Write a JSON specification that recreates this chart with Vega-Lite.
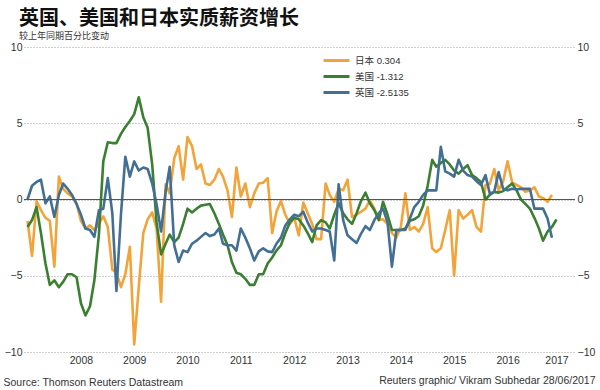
{
  "$schema": "https://vega.github.io/schema/vega-lite/v6.json",
  "width": 551,
  "height": 305,
  "autosize": "none",
  "padding": {"left": 24, "top": 47, "right": 25, "bottom": 38},
  "background": "white",
  "config": {"view": {"stroke": null}, "font": "Liberation Sans, Noto Sans CJK SC"},
  "title": {
    "text": "英国、美国和日本实质薪资增长",
    "subtitle": "较上年同期百分比变动",
    "anchor": "start",
    "frame": "group",
    "dx": -5,
    "offset": 1,
    "font": "Noto Sans CJK SC",
    "fontSize": 20,
    "fontWeight": "bold",
    "color": "#111111",
    "subtitleFont": "Noto Sans CJK SC",
    "subtitleFontSize": 9,
    "subtitleColor": "#333333",
    "subtitlePadding": 3
  },
  "data": {"values": [
    {"d":"2007-07-01","jp":-1.4,"us":-1.8,"uk":0.0},
    {"d":"2007-08-01","jp":-3.7,"us":-1.35,"uk":0.9},
    {"d":"2007-09-01","jp":-0.1,"us":-0.5,"uk":1.15},
    {"d":"2007-10-01","jp":-0.7,"us":-2.2,"uk":1.3},
    {"d":"2007-11-01","jp":-1.2,"us":-4.2,"uk":-0.25},
    {"d":"2007-12-01","jp":-1.4,"us":-5.6,"uk":0.2},
    {"d":"2008-01-01","jp":-4.4,"us":-5.3,"uk":-1.15},
    {"d":"2008-02-01","jp":1.5,"us":-5.75,"uk":0.3},
    {"d":"2008-03-01","jp":0.7,"us":-5.4,"uk":1.05},
    {"d":"2008-04-01","jp":0.4,"us":-4.9,"uk":0.7},
    {"d":"2008-05-01","jp":0.2,"us":-4.9,"uk":0.3},
    {"d":"2008-06-01","jp":-0.25,"us":-5.1,"uk":-0.3},
    {"d":"2008-07-01","jp":-1.4,"us":-6.8,"uk":-1.0},
    {"d":"2008-08-01","jp":-1.9,"us":-7.6,"uk":-1.9},
    {"d":"2008-09-01","jp":-1.7,"us":-7.0,"uk":-2.0},
    {"d":"2008-10-01","jp":-2.0,"us":-5.3,"uk":-2.45},
    {"d":"2008-11-01","jp":-1.6,"us":-2.3,"uk":-0.7},
    {"d":"2008-12-01","jp":-1.1,"us":2.5,"uk":-0.6},
    {"d":"2009-01-01","jp":-1.8,"us":3.75,"uk":1.4},
    {"d":"2009-02-01","jp":-4.6,"us":3.7,"uk":-0.9},
    {"d":"2009-03-01","jp":-4.8,"us":3.7,"uk":-6.0},
    {"d":"2009-04-01","jp":-5.75,"us":4.3,"uk":-1.0},
    {"d":"2009-05-01","jp":-4.9,"us":4.75,"uk":2.8},
    {"d":"2009-06-01","jp":-3.1,"us":5.15,"uk":1.5},
    {"d":"2009-07-01","jp":-9.5,"us":5.6,"uk":2.5},
    {"d":"2009-08-01","jp":-5.75,"us":6.7,"uk":1.9},
    {"d":"2009-09-01","jp":-2.2,"us":5.4,"uk":2.1},
    {"d":"2009-10-01","jp":-1.3,"us":4.7,"uk":2.0},
    {"d":"2009-11-01","jp":-0.85,"us":2.3,"uk":1.05},
    {"d":"2009-12-01","jp":-1.9,"us":-1.5,"uk":-0.3},
    {"d":"2010-01-01","jp":-6.7,"us":-3.6,"uk":-2.1},
    {"d":"2010-02-01","jp":1.0,"us":-2.9,"uk":0.5},
    {"d":"2010-03-01","jp":0.4,"us":-2.3,"uk":2.15},
    {"d":"2010-04-01","jp":2.7,"us":-2.8,"uk":-3.0},
    {"d":"2010-05-01","jp":3.5,"us":-2.5,"uk":-4.1},
    {"d":"2010-06-01","jp":1.3,"us":-1.6,"uk":-3.35},
    {"d":"2010-07-01","jp":4.1,"us":-0.6,"uk":-3.45},
    {"d":"2010-08-01","jp":3.5,"us":-0.85,"uk":-2.9},
    {"d":"2010-09-01","jp":2.0,"us":-0.6,"uk":-2.7},
    {"d":"2010-10-01","jp":2.3,"us":-0.4,"uk":-2.45},
    {"d":"2010-11-01","jp":1.05,"us":-0.35,"uk":-2.2},
    {"d":"2010-12-01","jp":0.95,"us":-0.3,"uk":-2.4},
    {"d":"2011-01-01","jp":1.3,"us":-0.9,"uk":-2.3},
    {"d":"2011-02-01","jp":2.0,"us":-1.6,"uk":-1.9},
    {"d":"2011-03-01","jp":1.5,"us":-2.3,"uk":-2.9},
    {"d":"2011-04-01","jp":0.6,"us":-3.0,"uk":-3.0},
    {"d":"2011-05-01","jp":-1.15,"us":-4.1,"uk":-3.0},
    {"d":"2011-06-01","jp":2.1,"us":-4.8,"uk":-3.35},
    {"d":"2011-07-01","jp":0.2,"us":-4.9,"uk":-1.9},
    {"d":"2011-08-01","jp":1.05,"us":-5.2,"uk":-2.5},
    {"d":"2011-09-01","jp":-0.5,"us":-5.6,"uk":-3.2},
    {"d":"2011-10-01","jp":0.4,"us":-5.6,"uk":-4.0},
    {"d":"2011-11-01","jp":1.05,"us":-4.9,"uk":-3.4},
    {"d":"2011-12-01","jp":1.1,"us":-4.9,"uk":-3.2},
    {"d":"2012-01-01","jp":1.4,"us":-4.2,"uk":-3.4},
    {"d":"2012-02-01","jp":-2.2,"us":-3.8,"uk":-3.45},
    {"d":"2012-03-01","jp":-0.8,"us":-3.35,"uk":-2.9},
    {"d":"2012-04-01","jp":-0.1,"us":-3.0,"uk":-2.5},
    {"d":"2012-05-01","jp":-1.0,"us":-2.2,"uk":-1.7},
    {"d":"2012-06-01","jp":-1.6,"us":-1.5,"uk":-1.3},
    {"d":"2012-07-01","jp":-1.2,"us":-1.2,"uk":-1.0},
    {"d":"2012-08-01","jp":-2.35,"us":-1.3,"uk":-1.1},
    {"d":"2012-09-01","jp":-0.2,"us":-1.7,"uk":-0.8},
    {"d":"2012-10-01","jp":-0.9,"us":-2.2,"uk":-1.5},
    {"d":"2012-11-01","jp":-1.6,"us":-2.8,"uk":-2.1},
    {"d":"2012-12-01","jp":-2.6,"us":-1.7,"uk":-1.9},
    {"d":"2013-01-01","jp":-2.6,"us":-1.35,"uk":-1.9},
    {"d":"2013-02-01","jp":1.05,"us":-1.5,"uk":-2.0},
    {"d":"2013-03-01","jp":0.3,"us":-1.9,"uk":-2.1},
    {"d":"2013-04-01","jp":-0.15,"us":-1.0,"uk":-4.0},
    {"d":"2013-05-01","jp":0.7,"us":-0.25,"uk":1.0},
    {"d":"2013-06-01","jp":0.6,"us":-0.9,"uk":-1.35},
    {"d":"2013-07-01","jp":1.3,"us":-1.3,"uk":-2.35},
    {"d":"2013-08-01","jp":-1.15,"us":-1.6,"uk":-2.6},
    {"d":"2013-09-01","jp":-1.0,"us":-0.9,"uk":-2.85},
    {"d":"2013-10-01","jp":-0.8,"us":-0.1,"uk":-2.25},
    {"d":"2013-11-01","jp":-0.6,"us":0.45,"uk":-1.75},
    {"d":"2013-12-01","jp":-0.05,"us":-0.25,"uk":-2.0},
    {"d":"2014-01-01","jp":-0.6,"us":-0.7,"uk":-1.35},
    {"d":"2014-02-01","jp":-1.35,"us":-1.35,"uk":-0.9},
    {"d":"2014-03-01","jp":-1.3,"us":-0.15,"uk":-0.6},
    {"d":"2014-04-01","jp":-1.6,"us":-1.0,"uk":-1.5},
    {"d":"2014-05-01","jp":-2.2,"us":-2.0,"uk":-4.4},
    {"d":"2014-06-01","jp":-2.5,"us":-2.0,"uk":-2.0},
    {"d":"2014-07-01","jp":-1.8,"us":-2.0,"uk":-2.0},
    {"d":"2014-08-01","jp":0.4,"us":-1.9,"uk":-2.0},
    {"d":"2014-09-01","jp":-2.0,"us":-1.4,"uk":-1.25},
    {"d":"2014-10-01","jp":-1.8,"us":-1.3,"uk":-0.5},
    {"d":"2014-11-01","jp":-2.1,"us":-1.1,"uk":-0.15},
    {"d":"2014-12-01","jp":-1.6,"us":-0.4,"uk":0.3},
    {"d":"2015-01-01","jp":-0.5,"us":0.9,"uk":0.6},
    {"d":"2015-02-01","jp":-3.2,"us":2.6,"uk":0.6},
    {"d":"2015-03-01","jp":-3.45,"us":2.15,"uk":0.6},
    {"d":"2015-04-01","jp":-3.2,"us":2.4,"uk":3.45},
    {"d":"2015-05-01","jp":-2.0,"us":2.6,"uk":1.85},
    {"d":"2015-06-01","jp":-0.7,"us":2.3,"uk":1.7},
    {"d":"2015-07-01","jp":-5.0,"us":1.9,"uk":1.5},
    {"d":"2015-08-01","jp":-0.7,"us":1.7,"uk":2.6},
    {"d":"2015-09-01","jp":-1.25,"us":2.0,"uk":1.9},
    {"d":"2015-10-01","jp":-1.0,"us":2.25,"uk":1.6},
    {"d":"2015-11-01","jp":-0.7,"us":1.6,"uk":1.5},
    {"d":"2015-12-01","jp":-1.8,"us":1.4,"uk":1.2},
    {"d":"2016-01-01","jp":-2.1,"us":1.15,"uk":0.95},
    {"d":"2016-02-01","jp":0.95,"us":0.0,"uk":1.6},
    {"d":"2016-03-01","jp":1.0,"us":0.3,"uk":0.4},
    {"d":"2016-04-01","jp":2.0,"us":0.5,"uk":0.5},
    {"d":"2016-05-01","jp":0.6,"us":0.45,"uk":1.8},
    {"d":"2016-06-01","jp":1.2,"us":0.55,"uk":0.7},
    {"d":"2016-07-01","jp":2.5,"us":0.8,"uk":0.6},
    {"d":"2016-08-01","jp":1.15,"us":1.05,"uk":0.7},
    {"d":"2016-09-01","jp":0.95,"us":0.6,"uk":0.65},
    {"d":"2016-10-01","jp":0.8,"us":0.0,"uk":0.7},
    {"d":"2016-11-01","jp":0.5,"us":-0.3,"uk":0.7},
    {"d":"2016-12-01","jp":0.6,"us":-0.6,"uk":0.7},
    {"d":"2017-01-01","jp":0.8,"us":-1.2,"uk":-0.6},
    {"d":"2017-02-01","jp":0.2,"us":-1.9,"uk":-0.6},
    {"d":"2017-03-01","jp":0.1,"us":-2.7,"uk":-0.6},
    {"d":"2017-04-01","jp":-0.15,"us":-2.1,"uk":-1.25},
    {"d":"2017-05-01","jp":0.304,"us":-1.8,"uk":-2.5135},
    {"d":"2017-06-01","jp":null,"us":-1.312,"uk":null}
  ]},
  "resolve": {"axis": {"y": "independent"}},
  "layer": [
    {
      "transform": [
        {"fold": ["jp", "us", "uk"], "as": ["k", "v"]},
        {"filter": "datum.v != null"}
      ],
      "mark": {"type": "line", "strokeWidth": 2.6, "strokeJoin": "round"},
      "encoding": {
        "x": {
          "field": "d", "type": "temporal",
          "scale": {"type": "utc", "domain": [{"year": 2007, "month": 6, "date": 7, "utc": true}, {"year": 2017, "month": 10, "date": 6, "utc": true}]},
          "axis": {
            "values": [
              {"year": 2008, "month": 7, "date": 1, "utc": true},
              {"year": 2009, "month": 7, "date": 1, "utc": true},
              {"year": 2010, "month": 7, "date": 1, "utc": true},
              {"year": 2011, "month": 7, "date": 1, "utc": true},
              {"year": 2012, "month": 7, "date": 1, "utc": true},
              {"year": 2013, "month": 7, "date": 1, "utc": true},
              {"year": 2014, "month": 7, "date": 1, "utc": true},
              {"year": 2015, "month": 7, "date": 1, "utc": true},
              {"year": 2016, "month": 7, "date": 1, "utc": true},
              {"year": 2017, "month": 6, "date": 1, "utc": true}
            ],
            "labelExpr": "utcFormat(datum.value, '%Y')",
            "ticks": false, "domain": false, "grid": false,
            "labelPadding": 3, "labelFontSize": 10.5, "labelColor": "#333333",
            "labelFont": "Liberation Sans", "labelFlush": false, "labelOverlap": false,
            "title": "Source: Thomson Reuters Datastream",
            "titleX": -21, "titleY": 33, "titleAlign": "left", "titleBaseline": "alphabetic",
            "titleFont": "Liberation Sans", "titleFontSize": 10.5, "titleFontWeight": "normal", "titleColor": "#333333"
          }
        },
        "y": {
          "field": "v", "type": "quantitative",
          "scale": {"domain": [-10, 10], "nice": false, "zero": false},
          "axis": {
            "orient": "left", "values": [-10, -5, 0, 5, 10],
            "grid": true, "gridDash": [1, 2], "gridColor": "#9a9a9a", "gridWidth": 1,
            "ticks": false, "domain": false, "labelPadding": 2,
            "labelFontSize": 10.5, "labelColor": "#333333", "labelFont": "Liberation Sans",
            "title": null
          }
        },
        "color": {
          "field": "k", "type": "nominal",
          "scale": {"domain": ["jp", "us", "uk"], "range": ["#F2A43A", "#3B7F32", "#426F93"]},
          "legend": {
            "orient": "none", "legendX": 304.5, "legendY": 5.5, "title": null, "padding": 0,
            "symbolType": "M-2,0H2", "symbolSize": 169, "symbolStrokeWidth": 3,
            "labelFontSize": 9.5, "labelOffset": 10.5, "rowPadding": 2, "labelColor": "#333333",
            "labelFont": "Liberation Sans, Noto Sans CJK SC",
            "labelExpr": "datum.value == 'jp' ? '日本 0.304' : datum.value == 'us' ? '美国 -1.312' : '英国 -2.5135'"
          }
        }
      }
    },
    {
      "data": {"values": [{}]},
      "mark": {"type": "rule", "color": "#555555", "strokeWidth": 1},
      "encoding": {
        "y": {
          "datum": 0, "type": "quantitative",
          "axis": {
            "orient": "right", "values": [-10, -5, 0, 5, 10],
            "grid": false, "ticks": false, "domain": false, "labelPadding": 2,
            "labelFontSize": 10.5, "labelColor": "#333333", "labelFont": "Liberation Sans",
            "title": "Reuters graphic/ Vikram Subhedar 28/06/2017",
            "titleAngle": 0, "titleX": 20, "titleY": 336, "titleAlign": "right", "titleBaseline": "alphabetic",
            "titleFont": "Liberation Sans", "titleFontSize": 10.5, "titleFontWeight": "normal", "titleColor": "#333333"
          }
        }
      }
    }
  ]
}
